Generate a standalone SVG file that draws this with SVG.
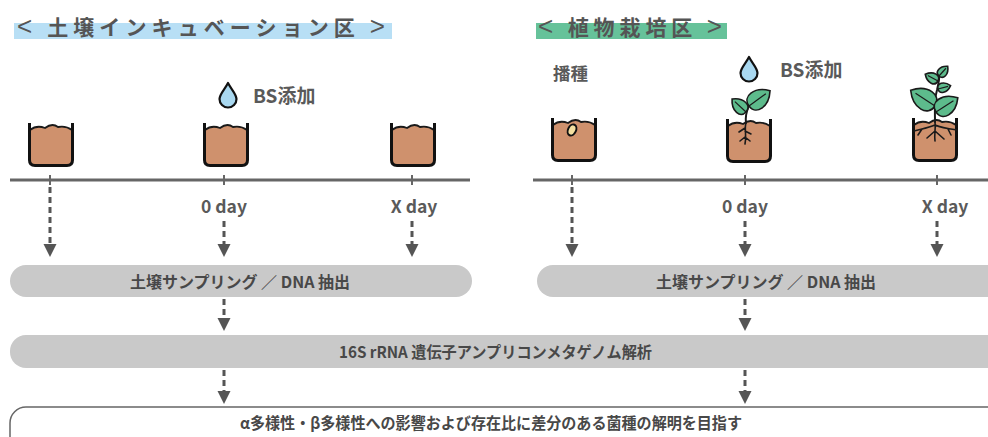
<svg xmlns="http://www.w3.org/2000/svg" xmlns:xlink="http://www.w3.org/1999/xlink" width="988" height="437" viewBox="0 0 988 437">
  <style>
    .title { font-family: "Noto Sans CJK JP", "Noto Sans", sans-serif; font-weight: 700; font-size: 21px; fill: #555; }
    .thin { font-family: "Liberation Sans", sans-serif; font-weight: 400; font-size: 26px; }
    .lbl { font-family: "Noto Sans CJK JP", "Noto Sans", sans-serif; font-weight: 700; font-size: 17.5px; fill: #5a5a5a; }
    .note { font-size: 19px; }
    .boxtxt { font-family: "Noto Sans CJK JP", "Noto Sans", sans-serif; font-weight: 700; font-size: 16px; fill: #484848; }
    .axis { stroke: #666; stroke-width: 3; fill: none; }
    .tick { stroke: #666; stroke-width: 2; }
    .dash { stroke: #555; stroke-width: 3; stroke-dasharray: 6 4; fill: none; }
    .head { fill: #555; }
    .bar { fill: #c9c9c9; }
    .goal { fill: #fff; stroke: #666; stroke-width: 1.5; }
    .root { stroke: #1a1a1a; stroke-width: 1.6; fill: none; stroke-linecap: round; stroke-linejoin: round; }
    .stem { stroke: #1a1a1a; stroke-width: 2; fill: none; stroke-linecap: round; }
  </style>
  <defs>
    <!-- pot with soil, 46 x 44 -->
    <g id="pot">
      <path d="M2,7 C7,3 12,3 17,5 C21,2 26,1 30,4 C35,3 40,4 44,7 V37 Q44,42 39,42 H7 Q2,42 2,37 Z" fill="#cf916d"/>
      <path d="M2,7 C7,3 12,3 17,5 C21,2 26,1 30,4 C35,3 40,4 44,7" fill="none" stroke="#1a1a1a" stroke-width="1.8"/>
      <path d="M1.5,0 V37 Q1.5,42.5 7,42.5 H39 Q44.5,42.5 44.5,37 V0" fill="none" stroke="#111" stroke-width="3" stroke-linejoin="round"/>
    </g>
    <!-- water drop, origin at the tip -->
    <path id="drop" d="M0,0 C3,6 8.5,11 8.5,16 A8.5,8.5 0 0 1 -8.5,16 C-8.5,11 -3,6 0,0 Z" fill="#a9d8f0" stroke="#111" stroke-width="2.2" stroke-linejoin="round"/>
    <!-- leaf, base at origin, tip at (20,0) -->
    <g id="leaf">
      <path d="M0,0 C0,-9 12,-10 20,0 C12,10 0,9 0,0 Z" fill="#5dbb8c" stroke="#1a1a1a" stroke-width="1.6" vector-effect="non-scaling-stroke"/>
      <path d="M0,0 L16,0" stroke="#1a1a1a" stroke-width="1.2" vector-effect="non-scaling-stroke"/>
    </g>
    <path id="arrowhead" d="M-6.5,0 H6.5 L0,13 Z" class="head"/>
  </defs>

  <!-- section headings -->
  <g id="heading-soil">
    <rect x="14" y="23" width="378" height="16" fill="#b8dff5"/>
    <text class="title" x="17" y="35" textLength="368" lengthAdjust="spacing"><tspan class="thin">&lt;</tspan> 土壌インキュベーション区 <tspan class="thin">&gt;</tspan></text>
  </g>
  <g id="heading-plant">
    <rect x="536" y="23" width="191" height="16" fill="#66c29a"/>
    <text class="title" x="538" y="35" textLength="184" lengthAdjust="spacing"><tspan class="thin">&lt;</tspan> 植物栽培区 <tspan class="thin">&gt;</tspan></text>
  </g>

  <!-- timelines -->
  <g id="timeline-soil">
    <line class="axis" x1="10" y1="180" x2="470" y2="180"/>
    <line class="tick" x1="50" y1="175" x2="50" y2="185"/>
    <line class="tick" x1="224" y1="175" x2="224" y2="185"/>
    <line class="tick" x1="412" y1="175" x2="412" y2="185"/>
    <text class="lbl" x="224" y="213" text-anchor="middle">0 day</text>
    <text class="lbl" x="414" y="213" text-anchor="middle">X day</text>
  </g>
  <g id="timeline-plant">
    <line class="axis" x1="533" y1="180" x2="988" y2="180"/>
    <line class="tick" x1="572" y1="175" x2="572" y2="185"/>
    <line class="tick" x1="745" y1="175" x2="745" y2="185"/>
    <line class="tick" x1="937" y1="175" x2="937" y2="185"/>
    <text class="lbl" x="745" y="213" text-anchor="middle">0 day</text>
    <text class="lbl" x="945" y="213" text-anchor="middle">X day</text>
  </g>

  <!-- soil incubation pots -->
  <g id="pot-soil-1"><use xlink:href="#pot" transform="translate(28,123)"/></g>
  <g id="pot-soil-2">
    <use xlink:href="#pot" transform="translate(203,123)"/>
    <use xlink:href="#drop" transform="translate(228,83)"/>
    <text class="lbl note" x="253" y="103">BS添加</text>
  </g>
  <g id="pot-soil-3"><use xlink:href="#pot" transform="translate(390,123)"/></g>

  <!-- plant cultivation pots -->
  <g id="pot-plant-seed">
    <text class="lbl" x="553" y="80" font-size="18">播種</text>
    <use xlink:href="#pot" transform="translate(551,118)"/>
    <ellipse cx="572" cy="130" rx="4" ry="5.8" transform="rotate(25 572 130)" fill="#f3dfa0" stroke="#111" stroke-width="2"/>
  </g>
  <g id="pot-plant-0">
    <use xlink:href="#drop" transform="translate(749,57)"/>
    <text class="lbl note" x="780" y="77">BS添加</text>
    <use xlink:href="#pot" transform="translate(726,119)"/>
    <path class="stem" d="M746,123 C745,116 747,110 749,105"/>
    <use xlink:href="#leaf" transform="translate(746,112) rotate(-137) scale(0.95)"/>
    <use xlink:href="#leaf" transform="translate(749,106) rotate(-36) scale(1.3)"/>
    <path class="root" d="M746,123 C744,129 747,135 745,144 M745,128 L739,132 M745,131 L751,134 M745,137 L740,141 M745,137 L750,141"/>
  </g>
  <g id="pot-plant-x">
    <use xlink:href="#pot" transform="translate(912,118)"/>
    <path class="stem" d="M935,122 C935,110 934,100 937,90 C939,82 940,78 939,73"/>
    <use xlink:href="#leaf" transform="translate(935,106) rotate(-147) scale(1.45)"/>
    <use xlink:href="#leaf" transform="translate(936,112) rotate(-33) scale(1.3)"/>
    <use xlink:href="#leaf" transform="translate(938,89) rotate(-15) scale(0.65)"/>
    <use xlink:href="#leaf" transform="translate(938,81) rotate(-152) scale(0.72)"/>
    <use xlink:href="#leaf" transform="translate(939,76) rotate(-48) scale(0.65)"/>
    <path class="root" d="M935,122 C936,128 934,134 935,141 M935,125 C928,128 921,129 914,131 M935,125 C942,128 950,129 957,130 M922,129 L918,135 M935,131 L927,138 M935,131 L944,139 M948,129 L951,135"/>
  </g>

  <!-- process bars -->
  <g id="step-sampling-soil">
    <rect class="bar" x="10" y="265" width="462" height="32" rx="16"/>
    <text class="boxtxt" x="240" y="288" text-anchor="middle">土壌サンプリング ／ DNA 抽出</text>
  </g>
  <g id="step-sampling-plant">
    <rect class="bar" x="537" y="265" width="470" height="32" rx="16"/>
    <text class="boxtxt" x="766" y="288" text-anchor="middle">土壌サンプリング ／ DNA 抽出</text>
  </g>
  <g id="step-sequencing">
    <rect class="bar" x="10" y="335" width="997" height="33" rx="16"/>
    <text class="boxtxt" x="339" y="358" textLength="313" lengthAdjust="spacingAndGlyphs">16S rRNA 遺伝子アンプリコンメタゲノム解析</text>
  </g>
  <g id="step-goal">
    <rect class="goal" x="10" y="407" width="997" height="45" rx="16"/>
    <text class="boxtxt" x="240" y="429" textLength="502" lengthAdjust="spacingAndGlyphs">α多様性・β多様性への影響および存在比に差分のある菌種の解明を目指す</text>
  </g>

  <!-- connectors -->
  <g id="connectors">
    <line class="dash" x1="50" y1="187" x2="50" y2="244"/>
    <use xlink:href="#arrowhead" transform="translate(50,244)"/>
    <line class="dash" x1="224" y1="221" x2="224" y2="244"/>
    <use xlink:href="#arrowhead" transform="translate(224,244)"/>
    <line class="dash" x1="412" y1="221" x2="412" y2="244"/>
    <use xlink:href="#arrowhead" transform="translate(412,244)"/>

    <line class="dash" x1="572" y1="187" x2="572" y2="244"/>
    <use xlink:href="#arrowhead" transform="translate(572,244)"/>
    <line class="dash" x1="745" y1="221" x2="745" y2="244"/>
    <use xlink:href="#arrowhead" transform="translate(745,244)"/>
    <line class="dash" x1="937" y1="221" x2="937" y2="244"/>
    <use xlink:href="#arrowhead" transform="translate(937,244)"/>

    <line class="dash" x1="224" y1="299" x2="224" y2="318"/>
    <use xlink:href="#arrowhead" transform="translate(224,318)"/>
    <line class="dash" x1="745" y1="299" x2="745" y2="318"/>
    <use xlink:href="#arrowhead" transform="translate(745,318)"/>

    <line class="dash" x1="224" y1="370" x2="224" y2="391"/>
    <use xlink:href="#arrowhead" transform="translate(224,391)"/>
    <line class="dash" x1="745" y1="370" x2="745" y2="391"/>
    <use xlink:href="#arrowhead" transform="translate(745,391)"/>
  </g>
</svg>
